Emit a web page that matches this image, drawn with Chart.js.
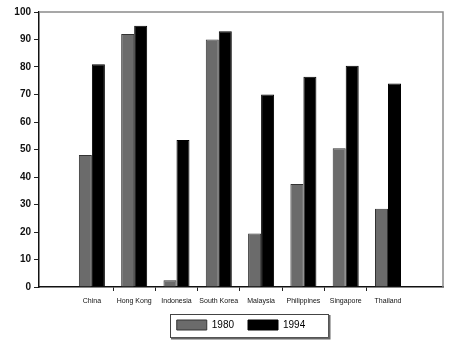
<!DOCTYPE html>
<html>
<head>
<meta charset="utf-8">
<script src="https://cdn.jsdelivr.net/npm/chart.js@4.4.1/dist/chart.umd.min.js"></script>
<style>
  html, body { margin: 0; background: #fff; }
  canvas { display: block; }
</style>
</head>
<body>
<canvas id="chart" width="456" height="351"></canvas>
<script>
const countries = ['China', 'Hong Kong', 'Indonesia', 'South Korea', 'Malaysia', 'Philippines', 'Singapore', 'Thailand'];
const values1980 = [48, 92, 2.5, 90, 19.5, 37.5, 50.5, 28.5];
const values1994 = [81, 95, 53.5, 93, 70, 76.5, 80.5, 74];
const seriesLabels = ['1980', '1994'];

// box around the plot (top and right sides are lighter in the scan)
const plotFrame = {
    id: 'plotFrame',
    beforeDatasetsDraw(chart) {
        const { ctx, chartArea: a } = chart;
        ctx.save();
        ctx.strokeStyle = '#8a8a8a';
        ctx.lineWidth = 1.5;
        ctx.beginPath();
        ctx.moveTo(a.left, a.top);
        ctx.lineTo(a.right, a.top);
        ctx.lineTo(a.right, a.bottom);
        ctx.stroke();
        ctx.restore();
    }
};

// frame round the legend
const legendFrame = {
    id: 'legendFrame',
    afterDraw(chart) {
        const boxes = chart.legend.legendHitBoxes;
        if (!boxes || !boxes.length) return;
        const left = Math.min(...boxes.map(b => b.left)) - 7;
        const right = Math.max(...boxes.map(b => b.left + b.width)) + 23;
        const top = Math.min(...boxes.map(b => b.top)) - 6;
        const bottom = Math.max(...boxes.map(b => b.top + b.height)) + 7;
        const ctx = chart.ctx;
        ctx.save();
        ctx.strokeStyle = '#444';
        ctx.lineWidth = 1;
        ctx.strokeRect(Math.round(left) + 0.5, Math.round(top) + 0.5, Math.round(right - left), Math.round(bottom - top));
        ctx.strokeStyle = '#666';
        ctx.lineWidth = 2;
        ctx.beginPath();
        ctx.moveTo(Math.round(left) + 1, Math.round(bottom) + 1.5);
        ctx.lineTo(Math.round(right) + 1.5, Math.round(bottom) + 1.5);
        ctx.lineTo(Math.round(right) + 1.5, Math.round(top) + 1);
        ctx.stroke();
        ctx.restore();
    }
};

const font = 'Liberation Sans';

new Chart(document.getElementById('chart'), {
    type: 'bar',
    data: {
        datasets: [
            {
                label: seriesLabels[0],
                data: countries.map((c, i) => ({ x: i, y: values1980[i] })),
                backgroundColor: '#6b6b6b',
                borderColor: '#333',
                borderWidth: 1
            },
            {
                label: seriesLabels[1],
                data: countries.map((c, i) => ({ x: i, y: values1994[i] })),
                backgroundColor: '#000',
                borderColor: '#000',
                borderWidth: 1
            }
        ]
    },
    options: {
        responsive: false,
        animation: false,
        categoryPercentage: 0.615,
        barPercentage: 1,
        layout: { padding: { top: 12, right: 13, bottom: 11, left: 0 } },
        scales: {
            x: {
                type: 'linear',
                offset: false,
                min: -1.25,
                max: 8.3,
                afterBuildTicks: s => { s.ticks = countries.map((c, i) => ({ value: i })); },
                ticks: {
                    autoSkip: false,
                    maxRotation: 0,
                    padding: 6,
                    color: '#111',
                    font: { family: font, size: 7 },
                    callback: v => countries[v]
                },
                grid: {
                    offset: true,
                    drawOnChartArea: false,
                    tickLength: 4,
                    color: c => (c.index >= 1 && c.index <= 7) ? '#222' : 'rgba(0,0,0,0)'
                },
                border: { color: '#111', width: 1.5 },
                afterFit: s => { s.height = 19; }
            },
            y: {
                min: 0,
                max: 100,
                ticks: {
                    stepSize: 10,
                    padding: 3,
                    color: '#111',
                    font: { family: font, size: 10, weight: 'bold' }
                },
                grid: { drawOnChartArea: false, tickLength: 5, color: '#222' },
                border: { color: '#111', width: 1.5 },
                afterFit: s => { s.width = 39; }
            }
        },
        plugins: {
            legend: {
                position: 'bottom',
                fullSize: false,
                labels: {
                    boxWidth: 30,
                    boxHeight: 10,
                    padding: 14,
                    color: '#000',
                    font: { family: font, size: 10 }
                }
            },
            tooltip: { enabled: false }
        }
    },
    plugins: [plotFrame, legendFrame]
});
</script>
</body>
</html>
